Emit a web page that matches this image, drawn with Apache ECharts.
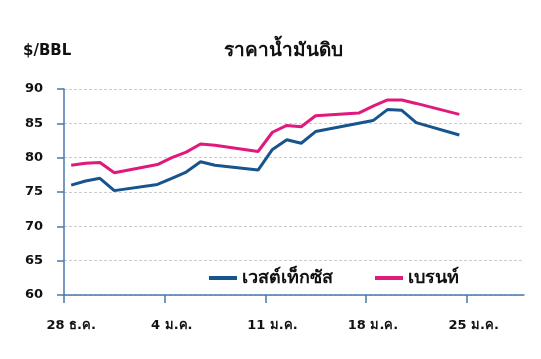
<!DOCTYPE html>
<html><head><meta charset="utf-8">
<script src="https://cdn.jsdelivr.net/npm/echarts@6/dist/echarts.min.js"></script>
<style>html,body{margin:0;padding:0;background:#fff}#c{width:541px;height:359px}</style>
</head><body><div id="c"></div>
<script>
const dates = ['2021-12-28','2021-12-29','2021-12-30','2021-12-31','2022-01-03','2022-01-04','2022-01-05','2022-01-06','2022-01-07','2022-01-10','2022-01-11','2022-01-12','2022-01-13','2022-01-14','2022-01-17','2022-01-18','2022-01-19','2022-01-20','2022-01-21','2022-01-24'];
const wti   = [76.0, 76.6, 77.0, 75.2, 76.1, 77.0, 77.9, 79.4, 78.9, 78.2, 81.2, 82.6, 82.1, 83.8, null, 85.4, 87.0, 86.9, 85.1, 83.3];
const brent = [78.9, 79.2, 79.3, 77.8, 79.0, 80.0, 80.8, 82.0, 81.8, 80.9, 83.7, 84.7, 84.5, 86.1, 86.5, 87.5, 88.4, 88.4, 87.9, 86.3];
const tickLabels = ['28 ธ.ค.', '4 ม.ค.', '11 ม.ค.', '18 ม.ค.', '25 ม.ค.'];
const seriesNames = ['เวสต์เท็กซัส', 'เบรนท์'];
const titleText = 'ราคาน้ำมันดิบ';
const unitText = '$/BBL';

const DAY = 86400000;
const t0 = Date.parse(dates[0]);
const dayPos = d => (Date.parse(d) - t0) / DAY + 0.5;
const tickVals = tickLabels.map((_, i) => i * 7);
const labelVals = tickLabels.map((_, i) => i * 7 + 0.5);

const FONT = '"DejaVu Sans", "Noto Sans", sans-serif';
const axisColor = '#4a78ac';

const chart = echarts.init(document.getElementById('c'), null, {renderer: 'canvas'});
chart.setOption({
  animation: false,
  backgroundColor: '#fff',
  title: [
    {text: titleText, left: 278, top: 46, textAlign: 'center', textVerticalAlign: 'middle',
     textStyle: {fontFamily: FONT, fontWeight: 'bold', fontSize: 19, color: '#111'}},
    {text: unitText, left: 18, top: 46, textVerticalAlign: 'middle',
     textStyle: {fontFamily: FONT, fontWeight: 'bold', fontSize: 15, color: '#111'}}
  ],
  legend: {
    data: seriesNames, left: 204, top: 264, icon: 'rect', itemWidth: 28, itemHeight: 4, itemGap: 42,
    textStyle: {fontFamily: FONT, fontWeight: 'bold', fontSize: 18, color: '#111'}
  },
  grid: {left: 64, top: 89, width: 460, height: 206, containLabel: false},
  xAxis: {
    type: 'value', min: 0, max: 32,
    axisLine: {show: true, lineStyle: {color: axisColor, width: 1.5}},
    axisTick: {show: true, length: 8, customValues: tickVals, lineStyle: {color: axisColor, width: 1.5}},
    axisLabel: {customValues: labelVals, margin: 24, fontFamily: FONT, fontWeight: 'bold', fontSize: 13, color: '#111',
      formatter: v => tickLabels[Math.round((v - 0.5) / 7)] || ''},
    splitLine: {show: false}
  },
  yAxis: {
    type: 'value', min: 60, max: 90, interval: 5,
    axisLine: {show: true, lineStyle: {color: axisColor, width: 1.5}},
    axisTick: {show: true, length: 7, lineStyle: {color: axisColor, width: 1.5}},
    axisLabel: {margin: 21, fontFamily: FONT, fontWeight: 'bold', fontSize: 13, color: '#111'},
    splitLine: {show: true, lineStyle: {color: '#cccccc', type: [3, 2], width: 1}}
  },
  series: [
    {name: seriesNames[0], type: 'line', showSymbol: false, connectNulls: true,
     data: dates.map((d, i) => [dayPos(d), wti[i]]),
     itemStyle: {color: '#17548e'}, lineStyle: {color: '#17548e', width: 3}},
    {name: seriesNames[1], type: 'line', showSymbol: false, connectNulls: true,
     data: dates.map((d, i) => [dayPos(d), brent[i]]),
     itemStyle: {color: '#e0197d'}, lineStyle: {color: '#e0197d', width: 3}}
  ]
});
</script></body></html>
